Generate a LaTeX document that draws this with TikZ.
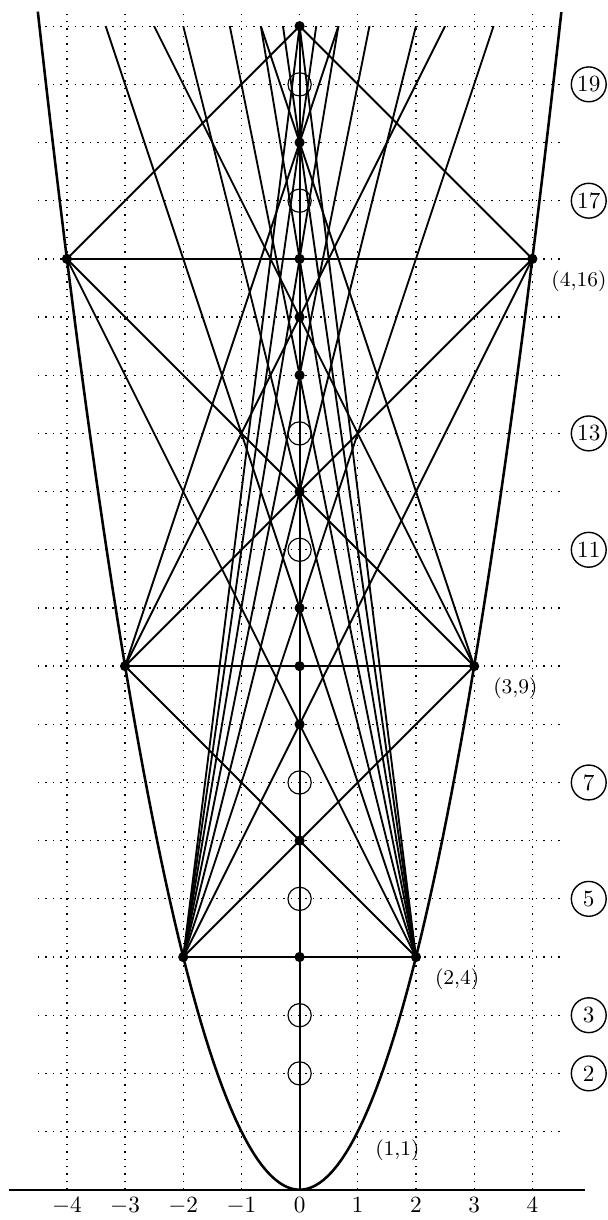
\documentclass[tikz,border=0pt]{standalone}
\usetikzlibrary{positioning}

\begin{document}
\begin{tikzpicture}[x=0.88cm,y=0.88cm,
  g/.style={line width=0.55pt,dash pattern=on 0.6pt off 2.6pt},
  ln/.style={line width=0.8pt},
  dot/.style={circle,fill,inner sep=0pt,minimum size=4.4pt},
  hole/.style={circle,draw,line width=0.5pt,inner sep=0pt,minimum size=10pt},
  tag/.style={circle,draw,line width=0.6pt,inner sep=1pt,minimum size=15pt},
  pt/.style={font=\small}]
\useasboundingbox (-5.15,-0.52) rectangle (5.3,20.45);
\draw[g,step={(1,1)}] (-4.5,0) grid (4.5,20.25);
% points on the parabola
\foreach \a in {2,...,10}{\coordinate (m\a) at (-\a,\a*\a);\coordinate (p\a) at (\a,\a*\a);}
\coordinate (p1) at (1,1);
% axes
\coordinate (xl) at (-5,0);\coordinate (xr) at (4.9,0);
\coordinate (o) at (0,0);\coordinate (top) at (0,20);
\draw[ln] (xl)--(xr);\draw[ln] (o)--(top);
\foreach \i in {-4,...,4} \node[below] (x\i) at (\i,0) {$\i$};
\draw[line width=1.1pt,domain=-4.5:4.5,samples=120] plot (\x,{\x*\x});
% chords, y-intercept a*b
\begin{scope}
\clip (-5,0) rectangle (5,20);
\foreach \b/\amax in {2/10,3/6,4/5,5/4,6/3,7/2,8/2,9/2,10/2}
  \foreach \a in {2,...,\amax} \draw[ln] (m\a)--(p\b);
\end{scope}
\foreach \n in {4,6,8,9,10,12,14,15,16,18,20} \node[dot] (c\n) at (0,\n) {};
\foreach \a in {2,3,4}{\node[dot] (ml\a) at (m\a) {};\node[dot] (pr\a) at (p\a) {};}
\foreach \n in {2,3,5,7,11,13,17,19}{\node[hole] (h\n) at (0,\n) {};\node[tag] (t\n) at (4.97,\n) {\n};}
\node[pt,below right=0pt and 4pt of p1] (l1) {(1,1)};
\node[pt,below right=0pt and 3pt of pr2] (l2) {(2,4)};
\node[pt,below right=0pt and 3pt of pr3] (l3) {(3,9)};
\node[pt,below right=0pt and 3pt of pr4] (l4) {(4,16)};
\end{tikzpicture}
\end{document}
